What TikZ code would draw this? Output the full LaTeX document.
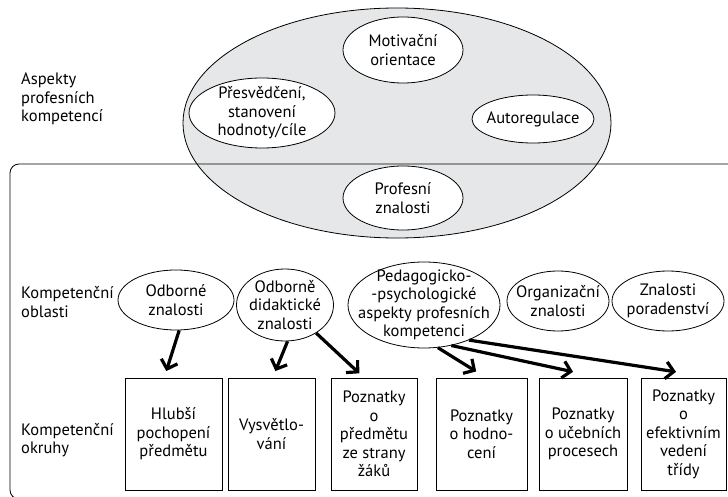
\documentclass[tikz,border=0pt]{standalone}
\usepackage{fontspec}
\setmainfont{PT Sans}
\usetikzlibrary{shapes.geometric,arrows.meta}
\definecolor{aspgray}{RGB}{230,231,232}

\begin{document}
\begin{tikzpicture}[x=1pt,y=-1pt,
    every node/.style={font=\fontsize{16.5}{18.5}\selectfont, align=center, inner sep=0pt},
    elip/.style={draw, ellipse, fill=white, line width=0.8pt, inner xsep=-8pt, inner ysep=-6pt},
    okruh/.style={draw, rectangle, fill=white, line width=0.8pt, minimum height=112pt},
    arr/.style={line width=3.2pt, shorten >=1pt, -{Straight Barb[length=8pt,width=17pt]}}]
      \useasboundingbox (0,0) rectangle (728,497);

      \node (asp) at (397,123) [draw, ellipse, fill=aspgray, line width=0.8pt, minimum width=428pt, minimum height=230pt] {};
      \draw[line width=0.8pt, rounded corners=9pt] (750,164) -- (10,164) -- (10,499) -- (750,499);

      \node (aspL) at (21,99) [anchor=west, align=left] {Aspekty\\profesních\\kompetencí};
      \node (obL) at (21,302) [anchor=west, align=left] {Kompetenční\\oblasti};
      \node (okL) at (21,440) [anchor=west, align=left] {Kompetenční\\okruhy};

      \node (mot) at (403,50) [elip, minimum width=120pt, minimum height=66pt] {Motivační\\orientace};
      \node (pres) at (262,113) [elip, minimum width=146pt, minimum height=70pt] {Přesvědčení,\\stanovení\\hodnoty/cíle};
      \node (auto) at (533,119) [elip, minimum width=122pt, minimum height=48pt] {Autoregulace};
      \node (prof) at (403,198) [elip, minimum width=120pt, minimum height=64pt] {Profesní\\znalosti};

      \node (odb) at (176,300) [elip, minimum width=116pt, minimum height=60pt] {Odborné\\znalosti};
      \node (did) at (285,305) [elip, minimum width=97pt, minimum height=72pt] {Odborně\\didaktické\\znalosti};
      \node (ped) at (424,305) [elip, inner xsep=-24pt, inner ysep=-12pt, minimum width=152pt, minimum height=86pt] {Pedagogicko-\\-psychologické\\aspekty profesních\\kompetenci};
      \node (org) at (558,301) [elip, minimum width=102pt, minimum height=60pt] {Organizační\\znalosti};
      \node (por) at (668,301) [elip, minimum width=112pt, minimum height=60pt] {Znalosti\\poradenství};

      \node (hlub) at (173.5,434) [okruh, minimum width=97pt] {Hlubší\\pochopení\\předmětu};
      \node (vys) at (271.5,434) [okruh, minimum width=87pt] {Vysvětlo-\\vání};
      \node (zak) at (374,434) [okruh, minimum width=86pt] {Poznatky\\o\\předmětu\\ze strany\\žáků};
      \node (hod) at (481.5,434) [okruh, minimum width=91pt] {Poznatky\\o hodno-\\cení};
      \node (uceb) at (583,434) [okruh, minimum width=88pt] {Poznatky\\o učebních\\procesech};
      \node (efek) at (683.5,434) [okruh, minimum width=85pt] {Poznatky\\o\\efektivním\\vedení\\třídy};

      \coordinate (t1) at (166,372);
      \coordinate (t2) at (275,372);
      \coordinate (t3) at (360,374);
      \coordinate (t4) at (477,372);
      \coordinate (t5) at (574,372);
      \coordinate (t6) at (677,372);

      \draw[arr] (odb.-84) -- (t1);
      \draw[arr] (did.-86) -- (t2);
      \draw[arr] (did.-42) -- (t3);
      \draw[arr] (ped.-72) -- (t4);
      \draw[arr] (ped.-56) -- (t5);
      \draw[arr] (ped.-38) -- (t6);

    \end{tikzpicture}
\end{document}
